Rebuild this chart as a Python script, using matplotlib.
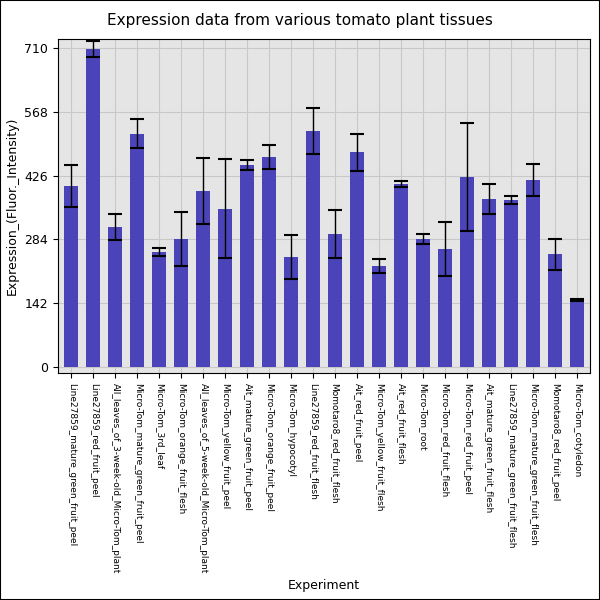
import numpy as np
import matplotlib
matplotlib.use("Agg")
import matplotlib.pyplot as plt

tissues = [
    "Line27859_mature_green_fruit_peel", "Line27859_red_fruit_peel",
    "All_leaves_of_3-week-old_Micro-Tom_plant", "Micro-Tom_mature_green_fruit_peel",
    "Micro-Tom_3rd_leaf", "Micro-Tom_orange_fruit_flesh",
    "All_leaves_of_5-week-old_Micro-Tom_plant", "Micro-Tom_yellow_fruit_peel",
    "Ait_mature_green_fruit_peel", "Micro-Tom_orange_fruit_peel",
    "Micro-Tom_hypocotyl", "Line27859_red_fruit_flesh",
    "Momotaro8_red_fruit_flesh", "Ait_red_fruit_peel",
    "Micro-Tom_yellow_fruit_flesh", "Ait_red_fruit_flesh",
    "Micro-Tom_root", "Micro-Tom_red_fruit_flesh",
    "Micro-Tom_red_fruit_peel", "Ait_mature_green_fruit_flesh",
    "Line27859_mature_green_fruit_flesh", "Micro-Tom_mature_green_fruit_flesh",
    "Momotaro8_red_fruit_peel", "Micro-Tom_cotyledon",
]
values = [403, 708, 312, 519, 256, 285, 392, 352, 450, 467, 245, 525,
          296, 478, 225, 407, 285, 263, 423, 374, 372, 416, 251, 149]
errors = [47, 17, 29, 32, 8, 61, 74, 110, 11, 27, 49, 51,
          54, 41, 15, 7, 11, 61, 121, 33, 9, 35, 34, 2]
yticks = [0, 142, 284, 426, 568, 710]

fig = plt.figure(figsize=(6, 6), dpi=100)
ax = fig.add_axes([58/600, 1-373/600, 532/600, 334/600])
ax.set_facecolor("#e5e5e5")
x = np.arange(len(tissues))
ax.bar(x, values, width=0.63, color="#4b44b8", zorder=3)
ax.errorbar(x, values, yerr=errors, fmt="none", ecolor="black",
            elinewidth=1, capsize=5, capthick=1.5, zorder=4)
ax.set_xlim(-0.6, len(tissues) - 0.4)
ax.set_ylim(-13, 730)
ax.set_yticks(yticks)
ax.set_xticks(x)
ax.set_xticklabels(tissues, rotation=-90, fontsize=6.5)
ax.tick_params(axis="y", labelsize=9)
ax.grid(color="#c8c8c8", linewidth=0.8, zorder=0)
ax.set_axisbelow(True)
ax.set_ylabel("Expression_(Fluor._Intensity)", fontsize=9)
fig.text(324/600, 1-585/600, "Experiment", ha="center", va="center", fontsize=9)
fig.text(0.5, 1-20/600, "Expression data from various tomato plant tissues",
         ha="center", va="center", fontsize=11)
fig.patches.append(plt.Rectangle((0, 0), 1, 1, transform=fig.transFigure,
                                 fill=False, edgecolor="black", linewidth=1.5))
fig.savefig("out.png", dpi=100)
